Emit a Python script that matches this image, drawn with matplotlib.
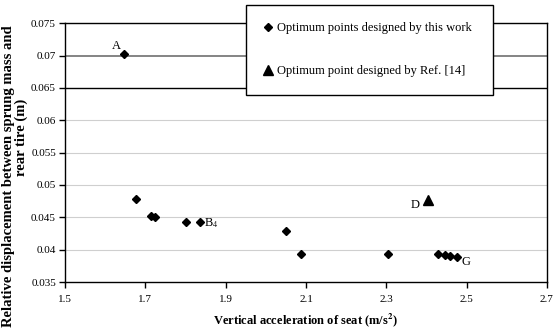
import matplotlib
matplotlib.use("Agg")
import matplotlib.pyplot as plt
from matplotlib.ticker import FuncFormatter

# Data
work_x = [1.647, 1.677, 1.714, 1.725, 1.800, 1.836, 2.051, 2.088, 2.305,
          2.429, 2.447, 2.459, 2.477]
work_y = [0.0703, 0.0479, 0.04525, 0.0451, 0.0442, 0.0442, 0.0429, 0.0394,
          0.0394, 0.0393, 0.0391, 0.0390, 0.0389]
ref_x = [2.404]
ref_y = [0.0477]

# point labels: (text, index into work points)
point_labels = [("A", 0), ("B$_4$", 5), ("G", 12)]
x_ticks = [1.5, 1.7, 1.9, 2.1, 2.3, 2.5, 2.7]
y_ticks = [0.035, 0.04, 0.045, 0.05, 0.055, 0.06, 0.065, 0.07, 0.075]

plt.rcParams['font.family'] = ['Liberation Serif', 'DejaVu Serif']
plt.rcParams['mathtext.fontset'] = 'stix'

fig = plt.figure(figsize=(5.56, 3.28), dpi=100)
ax = fig.add_axes([65 / 556, 1 - 282 / 328, 482 / 556, 258.7 / 328])

# gridlines (the top ones look dark in the original)
for yv in y_ticks[1:]:
  if yv == 0.065:
    col, lw = 'black', 1.0
  elif yv == 0.07:
    col, lw = '#707070', 1.2
  else:
    col, lw = '#cfcfcf', 0.8
  ax.axhline(yv, color=col, lw=lw, zorder=0)

ax.plot(work_x, work_y, linestyle='none', marker='D', markersize=4.2,
        color='black', label='Optimum points designed by this work')
ax.plot(ref_x, ref_y, linestyle='none', marker='^', markersize=7,
        color='black', label='Optimum point designed by Ref. [14]')

# point labels
offsets = {"A": (-5.4, 5.8), "B$_4$": (3.2, -0.6), "G": (6.3, -3.8)}
aligns = {"A": 'center', "B$_4$": 'left', "G": 'center'}
for txt, i in point_labels:
  ax.annotate(txt, (work_x[i], work_y[i]), xytext=offsets[txt],
              textcoords='offset points', ha=aligns[txt], va='center',
              fontsize=9)
ax.annotate("D", (ref_x[0], ref_y[0]), xytext=(-9.4, -3.6),
            textcoords='offset points', ha='center', va='center', fontsize=9)

ax.set_xlim(1.5, 2.7)
ax.set_ylim(0.035, 0.075)
ax.set_xticks(x_ticks)
ax.set_yticks(y_ticks)
ax.xaxis.set_major_formatter(FuncFormatter(lambda v, p: f'{v:g}'))
ax.yaxis.set_major_formatter(FuncFormatter(lambda v, p: f'{v:g}'))
ax.tick_params(direction='out', length=4, width=1, labelsize=8, pad=2.5)
ax.tick_params(axis='x', pad=5)
for s in ax.spines.values():
  s.set_color('black')
  s.set_linewidth(1)

ax.set_xlabel(r'Vertical acceleration of seat (m/s$^{\mathbf{2}}$)',
              fontsize=9, fontweight='bold', labelpad=6)

# y label: two centered lines
fig.text(9 / 556, 1 - 176 / 328,
         'Relative displacement between sprung mass and',
         rotation=90, ha='center', va='center', fontsize=10.5,
         fontweight='bold')
fig.text(21 / 556, 1 - 137 / 328, 'rear tire (m)',
         rotation=90, ha='center', va='center', fontsize=10.5,
         fontweight='bold')

leg = fig.legend(loc='upper left',
                 bbox_to_anchor=(245.7 / 556, 1 - 93 / 328, 247.6 / 556,
                                 88.3 / 328),
                 mode='expand', borderaxespad=0, fontsize=9,
                 handlelength=0.8, handletextpad=0.3, borderpad=1.4,
                 labelspacing=2.5, fancybox=False, framealpha=1,
                 edgecolor='black')
leg.get_frame().set_linewidth(1)

fig.savefig('out.png', dpi=100)
